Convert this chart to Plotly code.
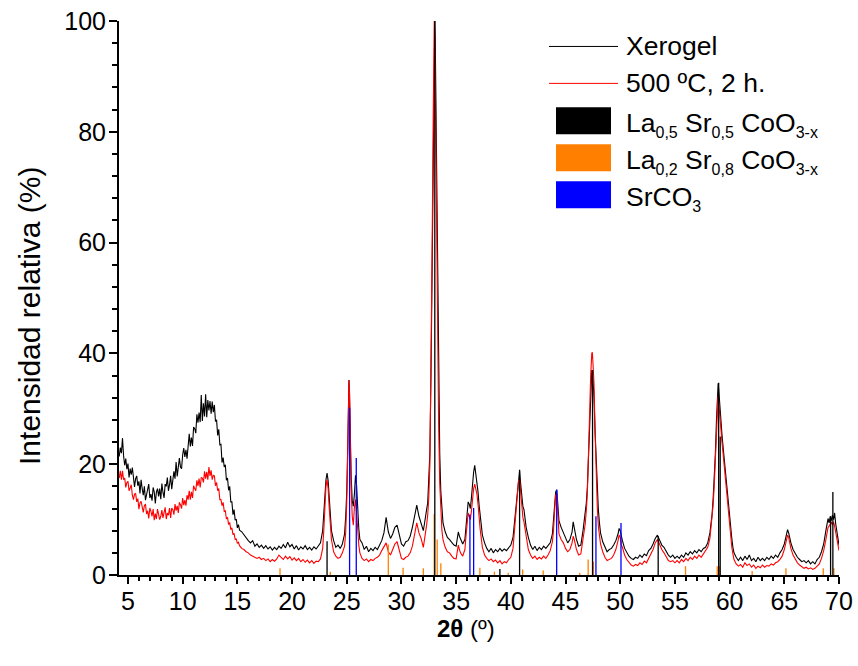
import plotly.graph_objects as go

# ---------------- data ----------------
two_theta = [
    4.2, 4.3, 4.4, 4.5, 4.6, 4.7, 4.8, 4.9, 5.0, 5.1,
    5.2, 5.3, 5.4, 5.5, 5.6, 5.7, 5.8, 5.9, 6.0, 6.1,
    6.2, 6.3, 6.4, 6.5, 6.6, 6.7, 6.8, 6.9, 7.0, 7.1,
    7.2, 7.3, 7.4, 7.5, 7.6, 7.7, 7.8, 7.9, 8.0, 8.1,
    8.2, 8.3, 8.4, 8.5, 8.6, 8.7, 8.8, 8.9, 9.0, 9.1,
    9.2, 9.3, 9.4, 9.5, 9.6, 9.7, 9.8, 9.9, 10.0, 10.1,
    10.2, 10.3, 10.4, 10.5, 10.6, 10.7, 10.8, 10.9, 11.0, 11.1,
    11.2, 11.3, 11.4, 11.5, 11.6, 11.7, 11.8, 11.9, 12.0, 12.1,
    12.2, 12.3, 12.4, 12.5, 12.6, 12.7, 12.8, 12.9, 13.0, 13.1,
    13.2, 13.3, 13.4, 13.5, 13.6, 13.7, 13.8, 13.9, 14.0, 14.1,
    14.2, 14.3, 14.4, 14.5, 14.6, 14.7, 14.8, 14.9, 15.0, 15.1,
    15.2,
    15.4, 15.6, 15.8, 16.0, 16.2, 16.4, 16.6, 16.8, 17.0, 17.2, 17.4, 17.6, 17.8, 18.0, 18.2, 18.4, 18.6, 18.8, 19.0, 19.2,
    19.4, 19.6, 19.8, 20.0, 20.2, 20.4, 20.6, 20.8, 21.0, 21.2, 21.4, 21.6, 21.8, 22.0, 22.2, 22.4, 22.6, 22.8, 22.9, 23.0,
    23.1, 23.2, 23.3, 23.4, 23.5, 23.6, 23.8, 24.0, 24.2, 24.4, 24.6, 24.8, 24.9, 25.0, 25.1, 25.15, 25.2, 25.25, 25.3, 25.4,
    25.5, 25.6, 25.7, 25.8, 25.9, 26.0, 26.1, 26.2, 26.4, 26.6, 26.8, 27.0, 27.2, 27.4, 27.6, 27.8, 28.0, 28.2, 28.4, 28.6,
    28.8, 29.0, 29.2, 29.4, 29.6, 29.8, 30.0, 30.2, 30.4, 30.6, 30.8, 31.0, 31.2, 31.4, 31.6, 31.8, 32.0, 32.1, 32.2, 32.3,
    32.4, 32.5, 32.6, 32.7, 32.8, 32.9, 33.0, 33.05, 33.1, 33.2, 33.3, 33.4, 33.5, 33.6, 33.7, 33.8, 34.0, 34.2, 34.4,
    34.6, 34.8, 35.0, 35.1, 35.2, 35.3, 35.4, 35.6, 35.8, 35.9, 36.0, 36.1, 36.2, 36.3, 36.4, 36.5, 36.6, 36.7, 36.8, 36.9,
    37.0, 37.1, 37.2, 37.4, 37.6, 37.8, 38.0, 38.2, 38.4, 38.6, 38.8, 39.0, 39.2, 39.4, 39.6, 39.8, 40.0, 40.2, 40.3, 40.4,
    40.5, 40.6, 40.7, 40.8, 40.9, 41.0, 41.1, 41.2, 41.3, 41.4, 41.6, 41.8, 42.0, 42.2, 42.4, 42.6, 42.8, 43.0, 43.2, 43.4,
    43.6, 43.8, 43.9, 44.0, 44.1, 44.2, 44.3, 44.4, 44.6, 44.8, 45.0, 45.2, 45.4, 45.6, 45.7, 45.8, 46.0, 46.2, 46.4, 46.6,
    46.8, 46.9, 47.0, 47.1, 47.2, 47.3, 47.4, 47.45, 47.5, 47.6, 47.7, 47.8, 47.9, 48.0, 48.1, 48.2, 48.4, 48.6, 48.8, 49.0,
    49.2, 49.4, 49.6, 49.8, 49.9, 50.0, 50.1, 50.2, 50.4, 50.6, 50.8, 51.0, 51.2, 51.4, 51.6, 51.8, 52.0, 52.2, 52.4, 52.6,
    52.8, 53.0, 53.2, 53.4, 53.5, 53.6, 53.8, 54.0, 54.2, 54.4, 54.6, 54.8, 55.0, 55.2, 55.4, 55.6, 55.8, 56.0, 56.2, 56.4,
    56.6, 56.8, 57.0, 57.2, 57.4, 57.6, 57.8, 58.0, 58.2, 58.4, 58.5, 58.6, 58.7, 58.8, 58.9, 58.95, 59.0, 59.1, 59.2, 59.3,
    59.4, 59.5, 59.6, 59.7, 59.8, 59.9, 60.0, 60.1, 60.2, 60.3, 60.4, 60.6, 60.8, 61.0, 61.2, 61.4, 61.6, 61.8, 62.0, 62.2,
    62.4, 62.6, 62.8, 63.0, 63.2, 63.4, 63.6, 63.8, 64.0, 64.2, 64.4, 64.6, 64.8, 65.0, 65.2, 65.3, 65.4, 65.5, 65.6, 65.8,
    66.0, 66.2, 66.4, 66.6, 66.8, 67.0, 67.2, 67.4, 67.6, 67.8, 68.0, 68.2, 68.4, 68.6, 68.8, 69.0, 69.1, 69.2, 69.3, 69.4,
    69.5, 69.6, 69.7, 69.8, 69.9, 70.0,
]

xerogel = [
    21.4, 23.0, 22.0, 24.7, 21.5, 19.8, 21.0, 19.1, 20.1, 17.6,
    19.2, 18.1, 19.4, 16.8, 15.9, 17.4, 17.9, 16.1, 16.9, 14.7,
    17.2, 15.6, 14.4, 16.0, 13.5, 14.5, 15.6, 16.4, 13.9, 14.6,
    13.4, 15.8, 15.0, 12.9, 15.0, 15.6, 14.2, 15.6, 13.7, 16.5,
    14.9, 13.9, 16.4, 16.0, 17.6, 15.2, 16.3, 17.9, 15.5, 17.9,
    18.7, 17.4, 20.4, 17.8, 19.5, 21.1, 19.5, 19.2, 21.7, 22.9,
    21.3, 22.6, 21.0, 24.1, 25.5, 23.2, 24.8, 23.3, 26.7, 26.4,
    25.6, 29.0, 27.5, 29.3, 27.6, 32.5, 27.8, 31.0, 28.6, 32.6,
    28.5, 31.6, 29.7, 31.4, 29.1, 31.3, 29.4, 30.7, 27.7, 28.0,
    25.2, 26.3, 23.5, 23.6, 20.3, 21.2, 19.5, 19.9, 17.1, 17.5,
    15.3, 16.0, 13.2, 13.2, 10.9, 11.8, 9.9, 10.1, 8.5, 9.1,
    8.1,
    7.8, 7.2, 6.6, 6.2, 5.8, 6.2, 5.2, 5.6, 5.0, 5.4, 4.8, 5.3, 4.7, 5.1, 4.5, 5.0, 4.6, 5.2, 4.8, 5.5,
    4.9, 5.9, 5.1, 5.5, 4.7, 5.3, 4.5, 5.1, 4.7, 5.3, 4.6, 5.0, 4.5, 5.1, 4.7, 5.3, 5.8, 8.0, 11.0, 14.8,
    17.2, 18.4, 17.0, 14.0, 10.2, 8.0, 6.2, 5.0, 5.4, 4.8, 5.6, 7.4, 10.4, 15.0, 24.0, 30.0, 35.2, 33.0, 26.0, 18.0,
    13.4, 12.4, 14.6, 18.0, 16.2, 11.0, 8.4, 6.4, 5.8, 4.6, 5.2, 4.2, 4.8, 4.4, 5.0, 4.6, 5.4, 6.2, 7.6, 10.4,
    7.8, 6.6, 7.4, 8.6, 9.0, 7.2, 5.6, 5.2, 6.0, 6.2, 7.0, 8.6, 10.8, 12.6, 10.6, 9.4, 8.0, 9.2, 11.0, 11.8,
    13.0, 16.5, 22.0, 36.0, 55.0, 76.0, 95.0, 100.0, 95.0, 74.0, 52.0, 35.0, 22.0, 15.0, 11.5, 9.4, 7.8, 6.8, 6.4,
    5.8, 5.4, 5.2, 6.2, 7.8, 7.0, 6.4, 5.6, 6.4, 8.6, 11.4, 13.2, 12.8, 12.0, 14.0, 16.6, 18.6, 19.8, 18.4, 17.2,
    15.0, 12.6, 10.4, 7.2, 5.8, 4.8, 4.2, 4.8, 4.0, 4.6, 4.2, 4.8, 4.3, 4.7, 4.4, 5.0, 5.4, 6.8, 8.8, 10.6,
    13.0, 15.4, 17.6, 18.8, 16.4, 14.0, 12.4, 11.8, 10.2, 8.6, 6.8, 5.4, 4.6, 5.2, 4.4, 5.0, 4.6, 5.2, 4.8, 5.4,
    5.8, 7.4, 9.6, 12.6, 15.0, 15.4, 12.0, 9.8, 8.6, 7.6, 6.6, 5.8, 6.4, 7.8, 9.6, 8.4, 6.4, 5.2, 5.4, 8.0,
    10.8, 13.0, 16.0, 22.0, 29.0, 34.0, 37.0, 36.6, 35.4, 32.4, 26.0, 20.0, 15.4, 11.8, 9.4, 7.6, 6.0, 5.0, 4.2, 4.6,
    4.8, 5.4, 6.2, 7.4, 8.4, 8.0, 6.8, 6.2, 4.8, 4.0, 3.4, 3.0, 2.8, 3.2, 3.0, 3.6, 3.2, 3.8, 3.5, 4.4,
    4.8, 5.6, 6.6, 7.2, 6.8, 6.2, 5.4, 5.0, 4.2, 3.6, 3.2, 3.6, 3.0, 3.4, 3.0, 3.6, 3.2, 4.0, 3.6, 4.2,
    3.8, 4.4, 4.0, 4.6, 4.2, 4.8, 5.0, 5.8, 7.6, 11.0, 14.0, 17.6, 22.0, 28.0, 33.0, 34.6, 33.6, 30.4, 28.0, 25.4,
    23.2, 21.0, 19.0, 17.2, 15.0, 12.8, 10.6, 8.6, 6.6, 5.0, 4.0, 3.2, 2.6, 3.2, 2.6, 3.4, 2.8, 3.6, 2.6, 3.0,
    2.4, 3.2, 2.6, 3.0, 2.6, 3.2, 2.8, 3.4, 3.0, 3.6, 3.2, 4.0, 4.6, 5.6, 7.2, 8.2, 7.6, 6.6, 5.8, 4.6,
    3.8, 3.2, 2.8, 2.4, 2.6, 2.2, 2.6, 2.0, 2.4, 2.0, 2.8, 3.2, 4.2, 5.6, 8.0, 10.2, 9.4, 10.6, 9.8, 10.8,
    10.0, 11.2, 9.2, 7.6, 6.8, 5.4,
]

calcined_500 = [
    17.5, 18.8, 17.2, 18.8, 17.2, 17.5, 15.8, 16.7, 16.9, 15.2,
    15.7, 16.3, 14.4, 13.6, 14.6, 14.7, 13.2, 13.8, 11.9, 13.0,
    13.3, 12.0, 11.3, 12.5, 12.8, 11.0, 11.6, 10.2, 12.1, 11.5,
    10.6, 11.9, 9.9, 11.1, 10.1, 11.9, 11.2, 10.0, 10.6, 11.7,
    10.3, 11.2, 12.2, 10.1, 11.2, 10.8, 12.1, 10.3, 12.1, 11.8,
    10.9, 12.8, 11.6, 12.5, 11.2, 13.1, 12.7, 12.0, 13.9, 12.6,
    13.5, 12.5, 14.4, 13.6, 15.2, 13.6, 15.0, 13.9, 16.1, 15.6,
    15.2, 17.1, 16.1, 17.4, 15.8, 17.6, 17.5, 16.7, 18.7, 17.4,
    18.6, 17.2, 19.5, 17.9, 18.9, 17.2, 18.0, 17.9, 16.1, 16.7,
    15.2, 15.6, 13.6, 13.6, 12.5, 13.1, 11.5, 11.6, 10.1, 10.4,
    9.1, 9.5, 8.2, 8.5, 7.3, 7.5, 6.4, 6.5, 5.7, 5.9,
    5.3,
    4.8, 4.6, 4.2, 4.0, 3.6, 3.4, 3.2, 3.0, 3.2, 2.8, 3.0, 2.6, 2.9, 2.4, 2.8, 2.5, 2.9, 3.6, 3.2, 2.8,
    3.4, 2.9, 3.3, 2.7, 3.1, 2.6, 3.0, 2.4, 2.8, 2.3, 2.7, 2.2, 2.6, 2.1, 2.5, 2.4, 2.9, 4.8, 8.0, 12.4,
    16.0, 17.2, 15.6, 12.0, 8.6, 6.4, 4.2, 3.4, 3.0, 3.2, 4.0, 5.2, 7.6, 13.0, 23.0, 30.0, 35.2, 33.4, 26.8, 16.0,
    10.6, 9.0, 12.2, 13.6, 11.4, 7.6, 5.4, 4.0, 3.0, 2.6, 2.9, 2.4, 2.8, 2.6, 3.0, 3.2, 3.6, 4.4, 5.2, 5.8,
    4.2, 3.6, 4.6, 5.6, 6.0, 4.4, 3.0, 2.8, 3.2, 3.4, 4.0, 5.2, 7.6, 9.4, 7.6, 6.6, 5.0, 6.2, 8.0, 9.0,
    10.8, 14.0, 20.0, 35.0, 58.0, 82.0, 100.0, 97.0, 88.0, 64.0, 42.0, 27.0, 16.5, 11.0, 8.0, 6.4, 5.0, 4.2, 4.0,
    3.4, 3.0, 2.9, 4.0, 5.4, 4.6, 4.0, 3.4, 4.6, 7.0, 10.0, 11.2, 10.6, 10.0, 11.6, 13.8, 15.6, 16.4, 15.4, 14.6,
    12.8, 10.4, 8.2, 5.0, 3.6, 3.0, 2.6, 2.9, 2.4, 2.7, 2.2, 2.6, 2.0, 2.4, 2.2, 2.8, 3.2, 4.8, 7.2, 9.4,
    12.0, 14.6, 17.0, 17.4, 14.8, 12.4, 10.4, 9.6, 8.4, 6.4, 4.6, 3.6, 3.0, 3.4, 2.8, 3.2, 2.9, 3.4, 3.0, 3.6,
    4.4, 6.0, 8.0, 11.6, 14.4, 14.8, 10.6, 7.4, 6.4, 5.8, 4.8, 4.2, 4.6, 5.8, 7.0, 6.4, 4.6, 3.6, 3.8, 6.2,
    9.2, 11.6, 15.0, 22.0, 30.0, 36.0, 40.0, 40.2, 38.6, 34.6, 26.0, 18.0, 12.4, 8.8, 7.0, 5.6, 4.2, 3.2, 2.6, 2.8,
    3.0, 3.6, 4.6, 6.2, 7.2, 6.8, 5.4, 5.0, 3.6, 2.8, 2.2, 1.8, 1.6, 1.9, 1.7, 2.2, 1.9, 2.5, 2.2, 3.0,
    3.6, 4.6, 5.8, 6.4, 6.0, 5.4, 4.6, 4.0, 3.2, 2.6, 2.4, 2.6, 2.2, 2.6, 2.2, 2.8, 2.4, 3.0, 2.6, 3.2,
    2.8, 3.4, 3.0, 3.6, 3.2, 3.8, 4.2, 5.0, 6.6, 10.0, 12.8, 16.4, 21.0, 27.0, 31.6, 32.4, 31.4, 28.4, 26.6, 24.0,
    22.0, 19.8, 17.8, 15.8, 13.6, 11.0, 8.8, 6.8, 5.0, 3.8, 2.8, 2.0, 1.6, 1.9, 1.4, 2.2, 1.7, 2.0, 1.4, 1.8,
    1.2, 1.6, 1.3, 1.8, 1.4, 1.7, 1.6, 2.0, 1.8, 2.2, 2.4, 2.8, 3.4, 4.6, 6.2, 7.2, 6.8, 5.6, 4.8, 3.6,
    2.8, 2.2, 1.8, 1.5, 1.2, 1.4, 1.1, 1.3, 1.0, 1.2, 1.6, 2.0, 3.0, 4.4, 6.4, 8.6, 8.8, 9.2, 9.6, 9.0,
    9.6, 8.8, 7.6, 6.4, 5.6, 4.4,
]

assert len(two_theta) == len(xerogel) == len(calcined_500), (len(two_theta), len(xerogel), len(calcined_500))

# reference patterns (stick positions, relative intensities)
lsco55_pos = [23.2, 33.05, 39.0, 40.8, 47.47, 53.47, 59.0, 59.14, 69.23, 69.44]
lsco55_int = [6.1, 100.0, 1.1, 19.0, 37.0, 7.0, 34.7, 25.0, 10.6, 15.0]

lsco28_pos = [18.9, 23.5, 28.8, 30.15, 32.0, 33.0, 33.27, 33.6, 37.17, 38.5, 39.76, 41.08,
              42.96, 46.3, 47.07, 47.55, 55.97, 58.87, 59.08, 62.06, 65.15, 68.56, 69.53]
lsco28_int = [1.2, 0.6, 5.5, 1.3, 1.2, 11.0, 6.4, 2.1, 1.3, 0.6, 0.4, 1.0,
              0.8, 0.4, 2.8, 2.4, 1.6, 1.6, 1.6, 0.7, 1.2, 1.2, 1.2]

srco3_pos = [25.26, 25.87, 36.26, 36.6, 44.19, 47.78, 50.07]
srco3_int = [30.2, 21.1, 10.9, 12.1, 15.4, 10.6, 9.4]

FONT = "Liberation Sans, Arial, sans-serif"

# plot-area geometry in pixels
L, R, T, B = 119, 839, 20.5, 575.5


def sticks(pos, inten):
    xs, ys = [], []
    for p, h in zip(pos, inten):
        xs += [p, p, None]
        ys += [0, h, None]
    return xs, ys


fig = go.Figure()
fig.add_trace(go.Scatter(x=two_theta, y=xerogel, mode="lines",
                         line=dict(color="black", width=1.1), name="Xerogel"))
fig.add_trace(go.Scatter(x=two_theta, y=calcined_500, mode="lines",
                         line=dict(color="#FF0000", width=1.1), name="500 ºC, 2 h."))

for pos, inten, col in [(lsco28_pos, lsco28_int, "#FF8000"),
                        (srco3_pos, srco3_int, "#0000FF"),
                        (lsco55_pos, lsco55_int, "#000000")]:
    sx, sy = sticks(pos, inten)
    fig.add_trace(go.Scatter(x=sx, y=sy, mode="lines",
                             line=dict(color=col, width=1.3), hoverinfo="skip"))


# ---------------- manual legend & titles ----------------
def pxx(px):
    return (px - L) / (R - L)


def pxy(py):
    return (B - py) / (B - T)


shapes = [
    dict(type="line", xref="paper", yref="paper",
         x0=pxx(549), x1=pxx(618), y0=pxy(46), y1=pxy(46),
         line=dict(color="black", width=1)),
    dict(type="line", xref="paper", yref="paper",
         x0=pxx(549), x1=pxx(618), y0=pxy(83), y1=pxy(83),
         line=dict(color="#FF0000", width=1)),
]
for top, col in [(107, "#000000"), (144, "#FF8000"), (181, "#0000FF")]:
    shapes.append(dict(type="rect", xref="paper", yref="paper",
                       x0=pxx(556), x1=pxx(611),
                       y0=pxy(top + 27), y1=pxy(top),
                       line=dict(width=0), fillcolor=col))


def sub(t):
    return '<sub><span style="font-size:16px">' + t + '</span></sub>'


legend_texts = [
    ("Xerogel", 46),
    ("500 ºC, 2 h.", 83),
    ("La" + sub("0,5") + " Sr" + sub("0,5") + " CoO" + sub("3-x"), 124),
    ("La" + sub("0,2") + " Sr" + sub("0,8") + " CoO" + sub("3-x"), 161),
    ("SrCO" + sub("3"), 198),
]
annotations = [
    dict(text=t, xref="paper", yref="paper", x=pxx(624), y=pxy(py),
         xanchor="left", yanchor="middle", showarrow=False,
         font=dict(family=FONT, size=26.5, color="black"))
    for t, py in legend_texts
]
annotations.append(dict(text="<b>2θ</b> (º)", xref="paper", yref="paper",
                        x=pxx(466), y=pxy(629), xanchor="center", yanchor="middle",
                        showarrow=False, font=dict(family=FONT, size=24, color="black")))
annotations.append(dict(text="Intensidad relativa (%)", xref="paper", yref="paper",
                        x=pxx(30), y=pxy(316), xanchor="center", yanchor="middle",
                        textangle=-90, showarrow=False,
                        font=dict(family=FONT, size=30, color="black")))

fig.update_layout(
    width=858, height=666,
    margin=dict(l=L, r=858 - R, t=T, b=666 - B),
    paper_bgcolor="white", plot_bgcolor="white",
    showlegend=False,
    shapes=shapes, annotations=annotations,
    font=dict(family=FONT, color="black"),
)

fig.update_xaxes(
    range=[4.18, 70], automargin=False,
    tickmode="array", tickvals=[5, 10, 15, 20, 25, 30, 35, 40, 45, 50, 55, 60, 65, 70],
    ticks="outside", ticklen=7, tickwidth=1.5, tickcolor="black",
    minor=dict(ticks="outside", dtick=1, tick0=0, ticklen=4, tickwidth=1.5, tickcolor="black"),
    showline=True, linecolor="black", linewidth=2, showgrid=False, zeroline=False,
    tickfont=dict(family=FONT, size=25, color="black"),
    ticklabelstandoff=-4,
)
fig.update_yaxes(
    range=[0, 100], automargin=False,
    tickmode="array", tickvals=[0, 20, 40, 60, 80, 100],
    ticks="outside", ticklen=8, tickwidth=1.5, tickcolor="black",
    minor=dict(ticks="outside", dtick=4, tick0=0, ticklen=5, tickwidth=1.5, tickcolor="black"),
    showline=True, linecolor="black", linewidth=2, showgrid=False, zeroline=False,
    tickfont=dict(family=FONT, size=25, color="black"),
    ticklabelstandoff=-2,
)

fig.write_html("out.html")
